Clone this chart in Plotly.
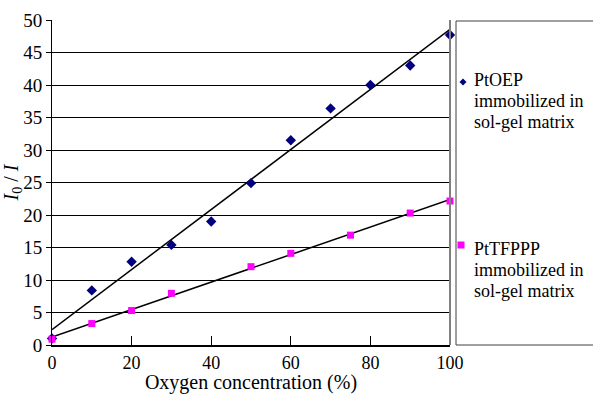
import numpy as np
import plotly.graph_objects as go

# ---- data ----
ptoep_x = [0, 10, 20, 30, 40, 50, 60, 70, 80, 90, 100]
ptoep_y = [1.0, 8.4, 12.8, 15.4, 19.0, 24.9, 31.5, 36.4, 40.0, 43.0, 47.7]
pttfppp_x = [0, 10, 20, 30, 50, 60, 75, 90, 100]
pttfppp_y = [0.9, 3.3, 5.3, 7.95, 12.05, 14.1, 16.9, 20.3, 22.15]
series_names = ["PtOEP", "PtTFPPP"]
legend_lines = ["immobilized in", "sol-gel matrix"]
x_ticks = [0, 20, 40, 60, 80, 100]
y_ticks = [0, 5, 10, 15, 20, 25, 30, 35, 40, 45, 50]

FONT = "Liberation Serif, Times New Roman, serif"
NAVY = "#000080"
MAGENTA = "#FF00FF"

fig = go.Figure()

# linear trendlines (least squares, as in the original spreadsheet)
fit_x = np.array([0, 100])
for xs, ys in [(ptoep_x, ptoep_y), (pttfppp_x, pttfppp_y)]:
    k, b = np.polyfit(xs, ys, 1)
    fig.add_trace(go.Scatter(x=fit_x, y=k * fit_x + b, mode="lines",
                             line=dict(color="black", width=1.5),
                             showlegend=False, hoverinfo="skip", cliponaxis=False))

fig.add_trace(go.Scatter(x=ptoep_x, y=ptoep_y, mode="markers", name=series_names[0],
                         marker=dict(symbol="diamond", size=8, color=NAVY),
                         showlegend=False, cliponaxis=False))
fig.add_trace(go.Scatter(x=pttfppp_x, y=pttfppp_y, mode="markers", name=series_names[1],
                         marker=dict(symbol="square", size=7, color=MAGENTA),
                         showlegend=False, cliponaxis=False))

L, R, T, B = 52, 143, 20, 49
W, H = 593, 394
pw, ph = W - L - R, H - T - B

def px(xp):
    return (xp - L) / pw

def py(yp):
    return (H - B - yp) / ph

shapes = [
    # right border of plot
    dict(type="line", xref="paper", yref="paper", x0=1, x1=1, y0=0, y1=1,
         line=dict(color="#808080", width=2)),
    # legend box (extends past the right edge)
    dict(type="rect", xref="paper", yref="paper", x0=px(456), x1=px(620),
         y0=py(345), y1=py(21), line=dict(color="#404040", width=1)),
]

# legend key symbols
dx, dy = 463, 82
shapes.append(dict(type="path", xref="paper", yref="paper",
                   path=f"M {px(dx-3.5)} {py(dy)} L {px(dx)} {py(dy-3.5)} L {px(dx+3.5)} {py(dy)} L {px(dx)} {py(dy+3.5)} Z",
                   fillcolor=NAVY, line=dict(width=0)))
sx, sy = 461, 245
shapes.append(dict(type="rect", xref="paper", yref="paper",
                   x0=px(sx-3.5), x1=px(sx+3.5), y0=py(sy+3.5), y1=py(sy-3.5),
                   fillcolor=MAGENTA, line=dict(width=0)))

annotations = []
text_x = px(472)
legend_rows = [
    (series_names[0], [80, 101, 122]),
    (series_names[1], [249, 270, 291]),
]
for name, ys in legend_rows:
    for line, yy in zip([name] + legend_lines, ys):
        annotations.append(dict(text=line, x=text_x, y=py(yy), xref="paper", yref="paper",
                                xanchor="left", yanchor="middle", showarrow=False,
                                font=dict(size=18, color="black", family=FONT)))

fig.update_layout(
    width=W, height=H,
    margin=dict(l=L, r=R, t=T, b=B, pad=0, autoexpand=False),
    paper_bgcolor="white", plot_bgcolor="white",
    font=dict(family=FONT, color="black", size=18),
    shapes=shapes, annotations=annotations,
    xaxis=dict(range=[0, 100], tickvals=x_ticks, ticks="inside", ticklen=9,
               tickcolor="black", tickwidth=1, showgrid=False, zeroline=False,
               showline=True, linecolor="black", linewidth=2, automargin=False,
               tickfont=dict(size=18, family=FONT),
               title=dict(text="Oxygen concentration (%)", font=dict(size=20, family=FONT),
                          standoff=4)),
    yaxis=dict(range=[0, 50], tickvals=y_ticks, ticks="outside", ticklen=5,
               tickcolor="black", tickwidth=1, showgrid=True, gridcolor="black",
               gridwidth=1, zeroline=False, showline=True, linecolor="black", linewidth=1,
               automargin=False,
               tickfont=dict(size=19, family=FONT),
               title=dict(text="<i>I</i><sub>0</sub> / <i>I</i>", font=dict(size=20, family=FONT),
                          standoff=3)),
)

fig.write_html("out.html")
